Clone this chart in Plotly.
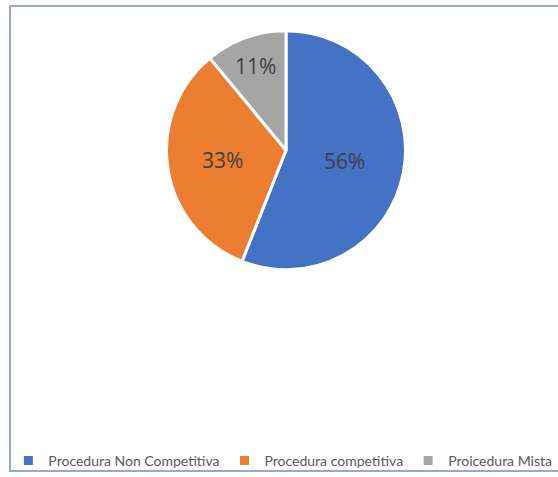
import plotly.graph_objects as go

# data
labels = ["Procedura Non Competitiva", "Procedura competitiva", "Proicedura Mista"]
values = [56, 33, 11]
colors = ["#4472C4", "#ED7D31", "#A5A5A5"]

W, H = 558, 477
FONT = "Lato, Roboto, sans-serif"

fig = go.Figure()
fig.add_trace(go.Pie(
    labels=labels,
    values=values,
    sort=False,
    direction="clockwise",
    rotation=0,
    marker=dict(colors=colors, line=dict(color="white", width=3)),
    textinfo="percent",
    texttemplate="%{percent:.0%}",
    textposition="inside",
    insidetextfont=dict(color="#404040", size=21, family="Open Sans, sans-serif"),
    domain=dict(x=[166 / W, 406 / W], y=[(H - 272) / H, (H - 31) / H]),
    hoverinfo="label+percent",
))

fig.update_layout(
    width=W, height=H,
    margin=dict(l=0, r=0, t=0, b=0),
    paper_bgcolor="white",
    plot_bgcolor="white",
    showlegend=True,
    legend=dict(
        orientation="h",
        x=0.015, xanchor="left",
        y=(H - 465) / H, yanchor="middle",
        bgcolor="rgba(0,0,0,0)",
        font=dict(family=FONT, size=14, color="#595959"),
        itemwidth=30,
        traceorder="normal",
    ),
    shapes=[dict(
        type="rect", xref="paper", yref="paper",
        x0=10 / W, x1=1.02, y0=(H - 475) / H, y1=(H - 6) / H,
        line=dict(color="#8FAADC", width=2),
    )],
)

# drop the default 8px body margin so the figure sits at the window's corner
fig.write_html(
    "out.html",
    config={"displayModeBar": False},
    post_script="document.body.style.margin='0';",
)
